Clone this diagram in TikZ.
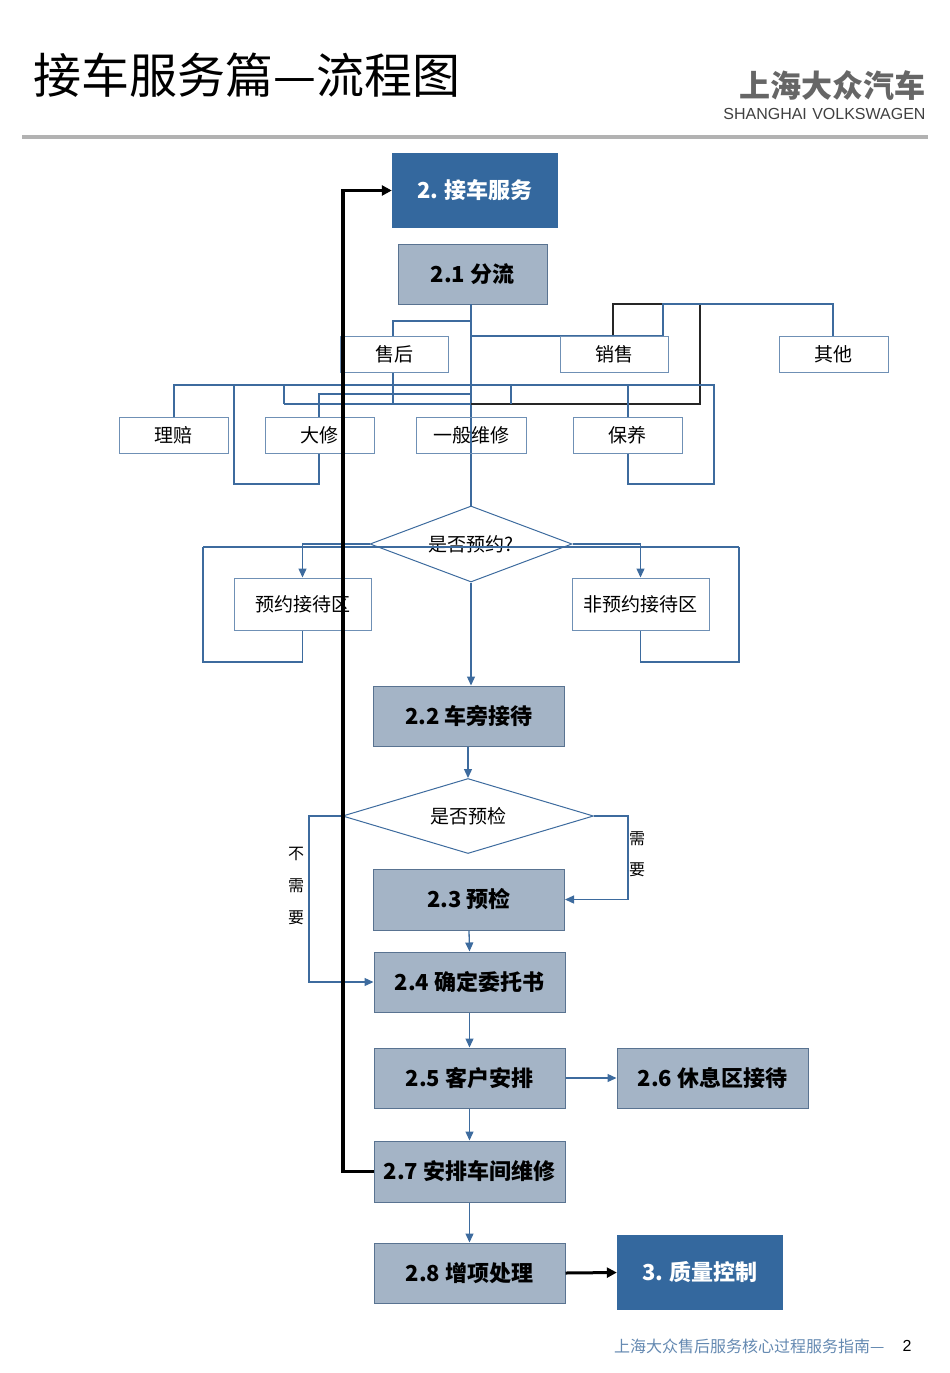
\documentclass[tikz,border=0pt]{standalone}
\usepackage{fontspec}
\setmainfont{Liberation Sans}
\newfontfamily\cjk{Noto Sans CJK SC}
\usetikzlibrary{shapes.geometric,arrows.meta}
\definecolor{dblue}{HTML}{34689E}
\definecolor{gbox}{HTML}{A4B4C6}
\definecolor{ln}{HTML}{3D6B9E}
\definecolor{bd}{HTML}{6F90B5}
\begin{document}
\begin{tikzpicture}[x=1pt,y=-1pt,
 wbox/.style={draw=bd,line width=1pt,fill=white,inner sep=0,font=\cjk\fontsize{19}{22}\selectfont},
 gb/.style={draw=bd!80!black,line width=1pt,fill=gbox,inner sep=0,minimum width=191,minimum height=60,font=\cjk\bfseries\fontsize{22}{26}\selectfont},
 db/.style={fill=dblue,inner sep=0,minimum width=166,minimum height=75,text=white,font=\cjk\bfseries\fontsize{22}{26}\selectfont},
 dia/.style={diamond,draw=ln,line width=1pt,fill=white,inner sep=0,font=\cjk\fontsize{19}{22}\selectfont},
 l/.style={draw=ln,line width=1.3pt},
 a/.style={l,-{Triangle[length=9pt,width=8pt]}},
 lab/.style={font=\cjk\fontsize{16}{18}\selectfont}]
\useasboundingbox (0,0) rectangle (950,1373);
% header
\node[anchor=west,font=\cjk\fontsize{48}{52}\selectfont] (title) at (30,75) {接车服务篇—流程图};
\node[anchor=east,text=black!60,font=\cjk\bfseries\fontsize{31}{34}\selectfont] (logo) at (929,86) {上海大众汽车};
\node[anchor=east,text=black!75,font=\fontsize{16}{17}\selectfont] (logo2) at (929,114) {SHANGHAI\,\,VOLKSWAGEN};
\draw[black!30,line width=4pt] (22,137) -- (928,137);
% footer
\node[anchor=east,text=ln!80,font=\cjk\fontsize{16}{18}\selectfont] (foot) at (888,1346) {上海大众售后服务核心过程服务指南—};
\node[font=\fontsize{16}{18}\selectfont] (pg) at (907,1346) {2};
% boxes
\node[db] (s2) at (475,190.5) {2. 接车服务};
\node[gb,minimum width=149] (s21) at (472.5,274) {2.1 分流};
% messy connectors
\draw[l] (471,304) -- (471,507);
\draw[l] (471,321) -| (393,336);
\draw[l] (393,372) -- (393,404);
\draw[l] (284,404) -- (471,404);
\draw[black!85,line width=1.3pt] (471,404) -- (700,404) -- (700,304) -- (613,304) -- (613,336);
\draw[l] (471,336) -- (663,336) -- (663,304) -- (833,304) -- (833,336);
\draw[l] (174,417) -- (174,385) -- (714,385) -- (714,484) -- (628,484) -- (628,453);
\draw[l] (234,385) -- (234,484) -- (319,484) -- (319,453);
\draw[l] (284,385) -- (284,404);
\draw[l] (511,385) -- (511,404);
\draw[l] (628,385) -- (628,417);
\draw[l] (319,417) -- (319,394) -- (471,394);
\node[wbox,minimum width=108,minimum height=36] (sh) at (394,354) {售后};
\node[wbox,minimum width=108,minimum height=36] (xs) at (614,354) {销售};
\node[wbox,minimum width=109,minimum height=36] (qt) at (833.5,354) {其他};
\node[wbox,minimum width=109,minimum height=36] (lp) at (173.5,435) {理赔};
\node[wbox,minimum width=109,minimum height=36] (dx) at (319.5,435) {大修};
\node[wbox,minimum width=110,minimum height=36,fill=none] (yb) at (471,435) {一般维修};
\node[wbox,minimum width=109,minimum height=36] (by) at (627.5,435) {保养};
% appointment
\node[dia,aspect=2.66,minimum width=202,minimum height=76,fill=none] (d1) at (471,544) {是否预约?};
\node[wbox,minimum width=137,minimum height=52] (yy) at (302.5,604) {预约接待区};
\node[wbox,minimum width=137,minimum height=52] (fy) at (640.5,604) {非预约接待区};
\draw[a] (d1.west) -| (yy.north);
\draw[a] (d1.east) -| (fy.north);
\draw[l] (203,547) -- (739,547);
\draw[l] (203,547) -- (203,662) -| (yy.south);
\draw[l] (739,547) -- (739,662) -| (fy.south);
% main
\node[gb] (s22) at (469,716) {2.2 车旁接待};
\draw[a] (d1.south) -- (s22.north -| d1.south);
\node[dia,aspect=3.35,minimum width=251,minimum height=75] (d2) at (468,816) {是否预检};
\node[gb,minimum height=61] (s23) at (469,899.5) {2.3 预检};
\node[gb] (s24) at (469.5,982) {2.4 确定委托书};
\node[gb] (s25) at (469.5,1078) {2.5 客户安排};
\node[gb] (s26) at (712.5,1078) {2.6 休息区接待};
\node[gb,minimum height=61] (s27) at (469.5,1171.5) {2.7 安排车间维修};
\node[gb] (s28) at (469.5,1273) {2.8 增项处理};
\node[db] (s3) at (700,1272.5) {3. 质量控制};
\draw[a] (s22.south -| d2.north) -- (d2.north);
\draw[a] (d2.east) -- (628,816) |- (s23.east);
\draw[a] (d2.west) -- (309,816) |- (s24.west);
\node[lab] (n1) at (637,839) {需};
\node[lab] (n2) at (637,870) {要};
\node[lab] (m1) at (296,854) {不};
\node[lab] (m2) at (296,886) {需};
\node[lab] (m3) at (296,918) {要};
\draw[a] (s23.south) -- (s24.north);
\draw[a] (s24.south) -- (s25.north);
\draw[a] (s25.east) -- (s26.west);
\draw[a] (s25.south) -- (s27.north);
\draw[a] (s27.south) -- (s28.north);
\draw[line width=3pt,-{Triangle[length=10pt,width=10pt]}] (s28.east) -- (s3.west);
\draw[line width=3.5pt,-{Triangle[length=10pt,width=10pt]}] (s27.west) -- (343,1171.5) -- (343,190.5) -- (s2.west);
\end{tikzpicture}
\end{document}
